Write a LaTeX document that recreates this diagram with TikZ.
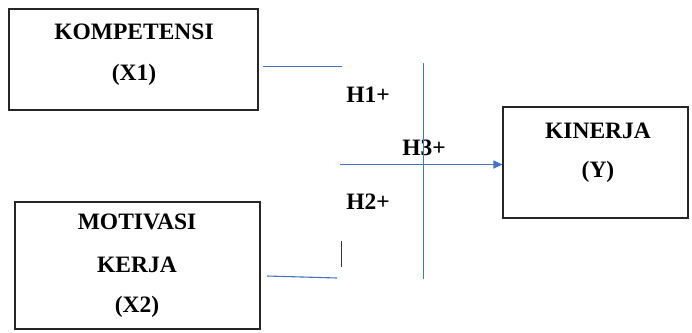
\documentclass[tikz,border=0pt]{standalone}
\usepackage{fontspec}
\setmainfont{Liberation Serif}
\usetikzlibrary{arrows.meta}
\definecolor{lineblue}{RGB}{68,114,196}
\begin{document}
\begin{tikzpicture}[x=1pt,y=-1pt,
  box/.style={draw=black!85,line width=1.1pt,inner sep=0pt},
  lbl/.style={font=\fontsize{23.5}{23.5}\selectfont\bfseries,inner sep=0pt,anchor=center},
  conn/.style={draw=lineblue,line width=1.1pt}]
\useasboundingbox (0,0) rectangle (692,332);
\fill[white] (0,0) rectangle (692,332);
% boxes
\node[box,minimum width=249pt,minimum height=101pt] (x1) at (133.5,59.5) {};
\node[box,minimum width=245pt,minimum height=127pt] (x2) at (137.5,265.5) {};
\node[box,minimum width=185pt,minimum height=111pt] (y) at (595.5,162.5) {};
% box texts
\node[lbl] (t1a) at (134,32) {KOMPETENSI};
\node[lbl] (t1b) at (134,75) {(X1)};
\node[lbl] (t2a) at (137,222) {MOTIVASI};
\node[lbl] (t2b) at (137,265) {KERJA};
\node[lbl] (t2c) at (137,307) {(X2)};
\node[lbl] (t3a) at (598,131) {KINERJA};
\node[lbl] (t3b) at (598,172) {(Y)};
% hypothesis labels
\node[lbl] (h1) at (368,95) {H1+};
\node[lbl] (h2) at (368,202) {H2+};
\node[lbl] (h3) at (424,148) {H3+};
% connector fragments
\coordinate (a1) at (263,66.5);
\coordinate (a2) at (342,66.5);
\coordinate (b1) at (267,276);
\coordinate (b2) at (337,278);
\coordinate (c1) at (341.5,241);
\coordinate (c2) at (341.5,267);
\coordinate (v1) at (423.5,63);
\coordinate (v2) at (423.5,279);
\coordinate (m1) at (340,164.5);
\draw[conn] (a1) -- (a2);
\draw[conn] (b1) -- (b2);
\draw[draw=black!80,line width=1.1pt] (c1) -- (c2);
\draw[conn] (v1) -- (v2);
\draw[conn,-{Triangle[length=9pt,width=8pt]}] (m1) -- (y.west |- m1);
\end{tikzpicture}
\end{document}
